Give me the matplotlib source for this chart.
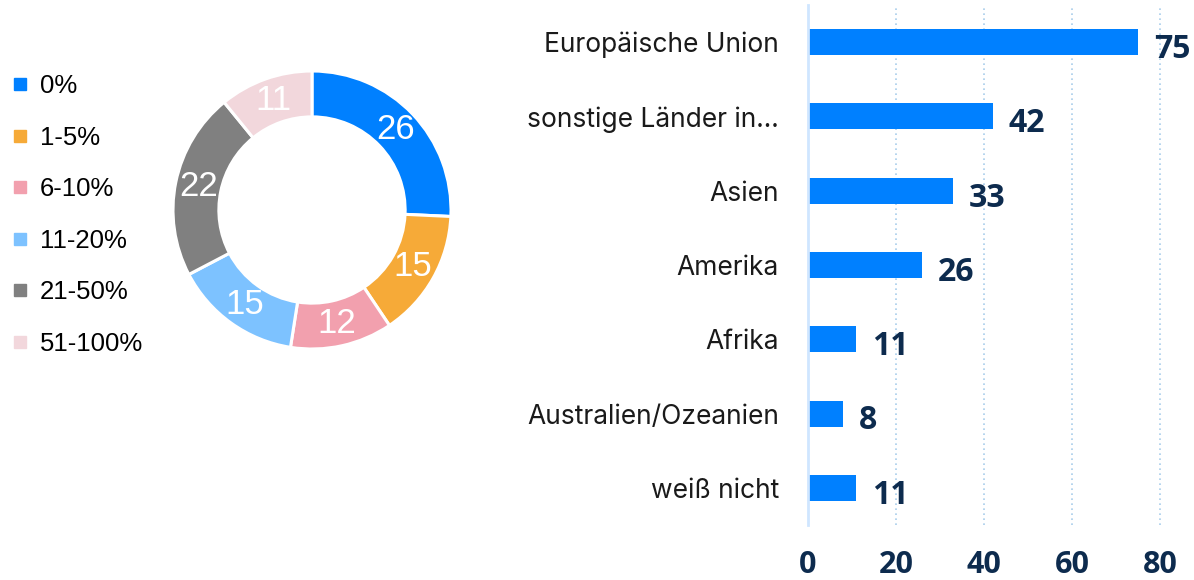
import matplotlib
matplotlib.use("Agg")
import matplotlib.pyplot as plt
from matplotlib.lines import Line2D

# donut data
share_labels = ["0%", "1-5%", "6-10%", "11-20%", "21-50%", "51-100%"]
share_values = [26, 15, 12, 15, 22, 11]
share_colors = ["#0080FF", "#F6AA38", "#F2A0AE", "#7DC2FF", "#808080", "#F2D7DC"]

# bar data
regions = ["Europäische Union", "sonstige Länder in...", "Asien", "Amerika",
           "Afrika", "Australien/Ozeanien", "weiß nicht"]
region_values = [75, 42, 33, 26, 11, 8, 11]
x_ticks = [0, 20, 40, 60, 80]

navy = "#0D2B4E"
W, H = 1194, 580
fig = plt.figure(figsize=(W / 100, H / 100), dpi=100)

# ---- donut ----
ax_pie = fig.add_axes([173 / W, 1 - 349 / H, 278 / W, 278 / H])
total = sum(share_values)
wedges, _, autotexts = ax_pie.pie(
    share_values, colors=share_colors, startangle=90, counterclock=False,
    radius=1.0, wedgeprops=dict(width=0.33, edgecolor="white", linewidth=2.2),
    autopct=lambda p: f"{round(p * total / 100)}", pctdistance=0.835,
    textprops=dict(color="white", fontsize=25, family="Liberation Sans"))
ax_pie.set_xlim(-1, 1)
ax_pie.set_ylim(-1, 1)

handles = [Line2D([], [], marker="s", linestyle="none", markersize=9,
                  markerfacecolor=c, markeredgecolor=c) for c in share_colors]
fig.legend(handles, share_labels, loc="upper left", bbox_to_anchor=(-0.003, 1 - 64 / H),
           frameon=False, labelspacing=1.07, handletextpad=0.3,
           handlelength=1.0, borderaxespad=0, borderpad=0.4,
           prop=dict(family="Liberation Sans", size=18.5))

# ---- bars ----
ax = fig.add_axes([808 / W, 1 - 525 / H, 86 * 4.4 / W, 520 / H])
ypos = list(range(len(regions)))
ax.barh(ypos, region_values, height=0.35, color="#0080FF")
ax.set_ylim(len(regions) - 0.5, -0.5)
ax.set_xlim(0, 86)
ax.set_yticks(ypos)
ax.set_yticklabels(regions, fontsize=19, family="Inter", color="#1A1A1A")
ax.tick_params(axis="y", length=0, pad=21)
ax.set_xticks(x_ticks)
ax.set_xticklabels([str(t) for t in x_ticks], fontsize=22, fontweight="bold",
                   family="Open Sans", color=navy)
ax.tick_params(axis="x", length=0, pad=18)
for v, y in zip(region_values, ypos):
    ax.text(v + 3.6, y + 0.1, str(v), va="center", ha="left", fontsize=23,
            fontweight="bold", family="Open Sans", color=navy)
for t in x_ticks[1:]:
    ax.axvline(t, color="#A9CDEB", linestyle=(0, (1, 2)), linewidth=1.2, zorder=0)
for s in ["top", "right", "bottom"]:
    ax.spines[s].set_visible(False)
ax.spines["left"].set_color("#CFE6FF")
ax.spines["left"].set_linewidth(2)

fig.savefig("out.png", dpi=100)
